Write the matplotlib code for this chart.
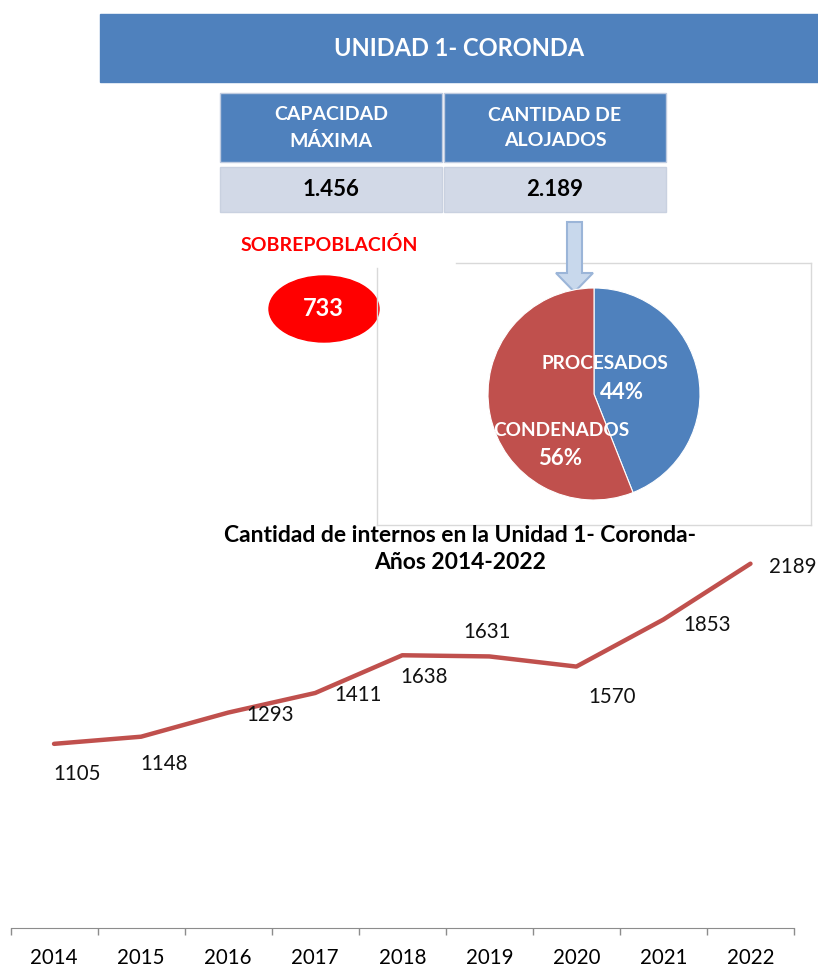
import numpy as np
import matplotlib
matplotlib.use("Agg")
import matplotlib.pyplot as plt
from matplotlib.patches import Rectangle, Ellipse, Polygon

plt.rcParams['font.family'] = ['Lato', 'DejaVu Sans']

# ---- data ----
unidad = "UNIDAD 1- CORONDA"
cabeceras = ["CAPACIDAD\nMÁXIMA", "CANTIDAD DE\nALOJADOS"]
capacidad = "1.456"
alojados = "2.189"
sobrepoblacion = 733

pie_labels = ["PROCESADOS", "CONDENADOS"]
pie_values = [44, 56]

years = ["2014", "2015", "2016", "2017", "2018", "2019", "2020", "2021", "2022"]
internos = [1105, 1148, 1293, 1411, 1638, 1631, 1570, 1853, 2189]
# label offsets in pixels (dx, dy up)
label_off = [(23, -30), (23, -27), (42, -2), (43, -2), (22, -22),
             (-2, 24), (36, -30), (44, -5), (42, -3)]

W, H = 818, 967
BLUE = '#4F81BD'
RED = '#C0504D'
CELL = '#D2D9E7'

fig = plt.figure(figsize=(W / 100, H / 100), dpi=100)
fig.patch.set_facecolor('white')


def px_box(left, top, right, bottom):
    return [left / W, 1 - bottom / H, (right - left) / W, (bottom - top) / H]


# overlay for boxes / texts
ov = fig.add_axes([0, 0, 1, 1])
ov.set_xlim(0, W)
ov.set_ylim(H, 0)
ov.axis('off')

# banner
ov.add_patch(Rectangle((100, 14), 718, 68, color=BLUE))
ov.text(459, 48, unidad, color='white', fontsize=17, fontweight='bold',
        ha='center', va='center')

# table
cols_x = [(220, 442), (444, 666)]
values = [capacidad, alojados]
for (x0, x1), head, val in zip(cols_x, cabeceras, values):
    ov.add_patch(Rectangle((x0, 93), x1 - x0, 69, facecolor=BLUE,
                           edgecolor='#BFCBE0', lw=1))
    ov.text((x0 + x1) / 2, 128, head, color='white', fontsize=14,
            fontweight='bold', ha='center', va='center', linespacing=1.6)
    ov.add_patch(Rectangle((x0, 167), x1 - x0, 45, facecolor=CELL,
                           edgecolor='#C9D1E0', lw=1))
    ov.text((x0 + x1) / 2, 189, val, color='black', fontsize=16,
            fontweight='bold', ha='center', va='center')

# sobrepoblacion
ov.text(329, 245, "SOBREPOBLACIÓN", color='#FF0000', fontsize=14,
        fontweight='bold', ha='center', va='center')
ov.add_patch(Ellipse((324, 309), 110, 66, color='#FF0000'))
ov.text(323, 309, str(sobrepoblacion), color='white', fontsize=17,
        fontweight='bold', ha='center', va='center')

# pie box border
bc = '#D9D9D9'
ov.plot([456, 811], [262.5, 262.5], color=bc, lw=1)
ov.plot([811, 811], [262.5, 525], color=bc, lw=1)
ov.plot([377, 811], [525, 525], color=bc, lw=1)
ov.plot([377, 377], [268, 525], color=bc, lw=1)

# arrow
arrow = Polygon([(567, 222), (582, 222), (582, 273), (593, 273),
                 (574.5, 292), (556, 273), (567, 273)], closed=True,
                facecolor='#C8D8EC', edgecolor='#9BB5D8', lw=1.5, zorder=5)
ov.add_patch(arrow)

# pie
pax = fig.add_axes(px_box(594 - 106, 394 - 106, 594 + 106, 394 + 106))
pax.pie(pie_values, colors=[BLUE, RED], startangle=90, counterclock=False,
        wedgeprops=dict(edgecolor='white', linewidth=0.8))
pax.set_xlim(-1, 1)
pax.set_ylim(-1, 1)
pax.set_aspect('equal')
pax.axis('off')
pos = [((0.10, 0.29), (0.26, 0.01)), ((-0.31, -0.34), (-0.32, -0.61))]
for lab, val, (p1, p2) in zip(pie_labels, pie_values, pos):
    pax.text(p1[0], p1[1], lab, color='white', fontsize=13.7,
             fontweight='bold', ha='center', va='center')
    pax.text(p2[0], p2[1], f"{val}%", color='white', fontsize=16,
             fontweight='bold', ha='center', va='center')

# line chart
ax = fig.add_axes(px_box(10.5, 512, 794, 927.5))
x = np.arange(len(years))
ax.plot(x, internos, color=RED, lw=3.2, solid_capstyle='round')
for xi, v, (dx, dy) in zip(x, internos, label_off):
    ax.annotate(str(v), (xi, v), xytext=(dx, dy), textcoords='offset pixels',
                ha='center', va='center', fontsize=14.8, color='#111111')
ax.set_xlim(-0.5, len(years) - 0.5)
ax.set_ylim(0, 2500)
for s in ['left', 'right', 'top']:
    ax.spines[s].set_visible(False)
ax.spines['bottom'].set_color('#8C8C8C')
ax.set_yticks([])
ax.set_xticks(x)
ax.set_xticklabels(years, fontsize=14.8)
ax.set_xticks(np.arange(-0.5, len(years)), minor=True)
ax.tick_params(axis='x', which='major', length=0, pad=15)
ax.tick_params(axis='x', which='minor', length=5, color='#8C8C8C', width=1)
ax.patch.set_alpha(0)

fig.text(460 / W, 1 - 549 / H,
         "Cantidad de internos en la Unidad 1- Coronda-\nAños 2014-2022",
         ha='center', va='center', fontsize=16.5, fontweight='bold',
         linespacing=1.35)

fig.savefig('out.png', dpi=100)
